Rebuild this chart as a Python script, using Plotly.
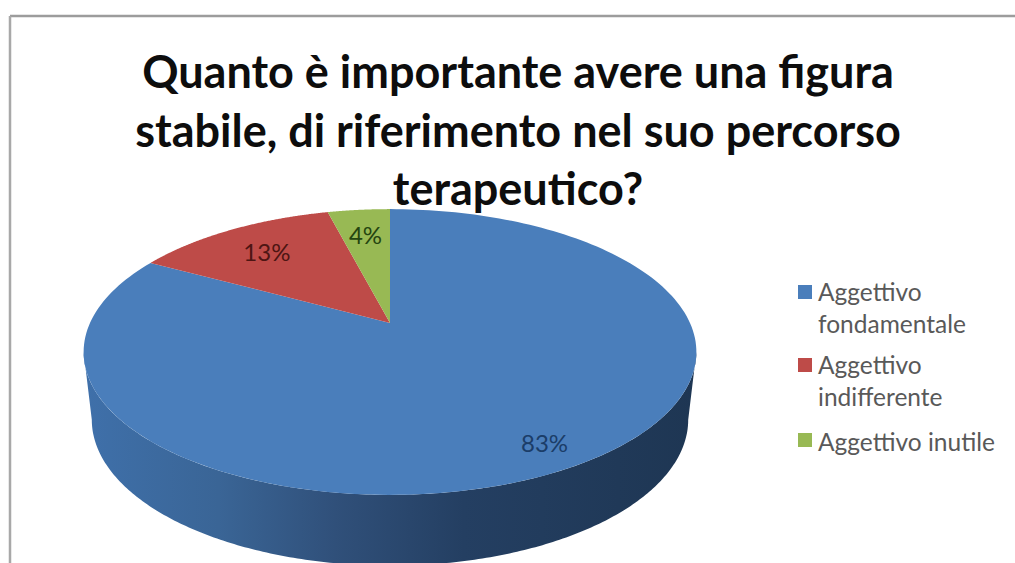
import numpy as np
import plotly.graph_objects as go

# Survey results
categories = ["Aggettivo fondamentale", "Aggettivo indifferente", "Aggettivo inutile"]
values = [83, 13, 4]
title_lines = [
    "Quanto è importante avere una figura",
    "stabile, di riferimento nel suo percorso",
    "terapeutico?",
]

colors = ["#4a7ebb", "#be4b48", "#98b954"]
label_colors = ["#1b3d68", "#4d1513", "#254510"]
label_radius = [0.86, 0.75, 0.75]

W, H = 1015, 563
CX = 390
TILT = 0.203  # perspective strength of the tilted disc


def project(theta, r=1.0, y0=323.0, a=300.0, b=137.0):
    """Map a polar position on the disc (clockwise from 12 o'clock) to the page."""
    w = 1 + TILT * r * np.cos(theta)
    return CX + a * r * np.sin(theta) / w, y0 - b * r * np.cos(theta) / w


fig = go.Figure()

# Rim of the pie: front arc of the top face, back along the lower edge
front = np.linspace(np.arccos(-TILT), 2 * np.pi - np.arccos(-TILT), 240)
top_x, top_y = project(front)
low_x, low_y = project(front[::-1], y0=390.0, a=292.0, b=140.0)
fig.add_trace(go.Scatter(
    x=np.r_[top_x, low_x], y=np.r_[top_y, low_y],
    mode="none", fill="toself", showlegend=False, hoverinfo="skip",
    fillgradient=dict(
        type="horizontal",
        colorscale=[
            [0.0, "#3f70aa"], [0.22, "#3a6596"], [0.41, "#30507a"],
            [0.62, "#243f62"], [1.0, "#1e3653"],
        ],
    ),
))

# Top face: slices run clockwise from 12 o'clock
total = sum(values)
edges = 2 * np.pi * np.cumsum([0] + values) / total
for name, start, stop, color in zip(categories, edges[:-1], edges[1:], colors):
    t = np.linspace(start, stop, 200)
    x, y = project(t)
    ax, ay = project(0.0, r=0.0)
    fig.add_trace(go.Scatter(
        x=np.r_[ax, x, ax], y=np.r_[ay, y, ay], name=name,
        mode="none", fill="toself", fillcolor=color, showlegend=False,
        hovertemplate=f"{name}<extra></extra>",
    ))

# Percentage labels
mids = (edges[:-1] + edges[1:]) / 2
for v, m, r, c in zip(values, mids, label_radius, label_colors):
    lx, ly = project(m, r=r)
    fig.add_trace(go.Scatter(
        x=[lx], y=[ly + 4], mode="text", text=[f"{v}%"], showlegend=False, hoverinfo="skip",
        textposition="middle center",
        textfont=dict(family="Lato", size=24, color=c),
    ))

# Legend column
key_y = [292, 365, 440]
text_y = [275, 348, 425]
legend_text = [n.replace("Aggettivo ", "Aggettivo<br>") for n in categories[:2]] + [categories[2]]
for ky, ty, c, txt in zip(key_y, text_y, colors, legend_text):
    fig.add_trace(go.Scatter(
        x=[805], y=[ky], mode="markers", showlegend=False, hoverinfo="skip",
        marker=dict(symbol="square", size=14, color=c),
    ))
    fig.add_annotation(
        x=816, y=ty, xref="x", yref="y", text=txt, showarrow=False,
        xanchor="left", yanchor="top", align="left",
        font=dict(family="Lato", size=24.5, color="#595959"),
    )

fig.update_layout(
    width=W, height=H,
    margin=dict(l=0, r=0, t=0, b=0),
    paper_bgcolor="white", plot_bgcolor="white",
    font=dict(family="Lato"),
    title=dict(
        text="<br>".join(title_lines),
        x=518 / W, y=1 - 88 / H, xanchor="center", yanchor="top",
        font=dict(family="Lato", size=45, color="#0d0d0d", weight="bold"),
    ),
    xaxis=dict(range=[0, W], visible=False, fixedrange=True),
    yaxis=dict(range=[H, 0], visible=False, fixedrange=True),
    shapes=[
        dict(type="line", xref="x", yref="y", x0=10, x1=W, y0=16, y1=16,
             line=dict(color="#9c9c9c", width=2.5)),
        dict(type="line", xref="x", yref="y", x0=10, x1=10, y0=16, y1=H,
             line=dict(color="#a8a8a8", width=2.5)),
    ],
)

fig.write_html("out.html")
